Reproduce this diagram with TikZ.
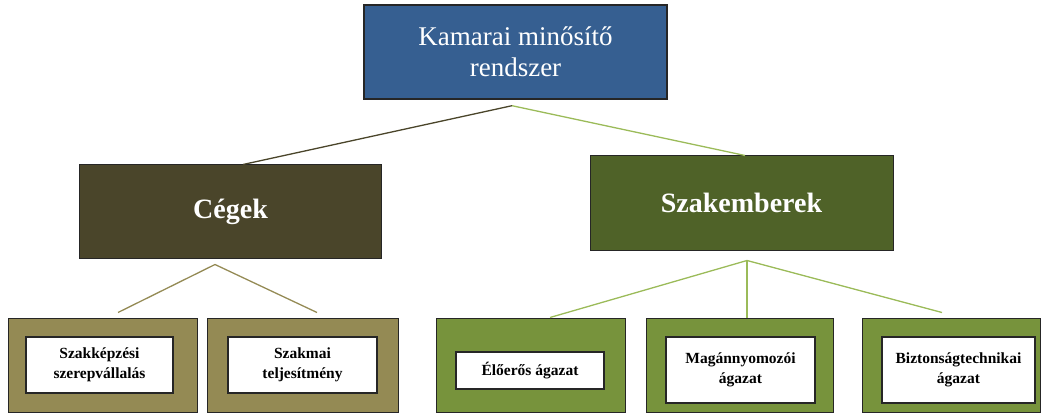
\documentclass[tikz,border=0pt]{standalone}
\usepackage{fontspec}
\setmainfont{Liberation Serif}
\definecolor{topblue}{HTML}{365F91}
\definecolor{cegbrown}{HTML}{4A452A}
\definecolor{szakgreen}{HTML}{4F6228}
\definecolor{olive}{HTML}{948A54}
\definecolor{leaf}{HTML}{77933C}
\definecolor{lightgreen}{HTML}{9BBB59}
\begin{document}
\begin{tikzpicture}[x=1pt,y=-1pt,
  base/.style={draw=black!85, line width=1pt, inner sep=0pt, align=center},
  topbox/.style={base, line width=1.4pt, fill=topblue, text=white, minimum width=303pt, minimum height=94pt, font=\fontsize{27}{31}\selectfont},
  midbox/.style={base, text=white, minimum width=302pt, minimum height=93pt, font=\bfseries\fontsize{28}{30}\selectfont},
  outerbox/.style={base, minimum height=94pt},
  innerbox/.style={base, line width=1.2pt, fill=white, text=black, font=\bfseries\fontsize{15.5}{20}\selectfont},
  link/.style={line width=1.3pt}
]
\useasboundingbox (0,0) rectangle (1041,414);

% top
\node[topbox] (top) at (515.5,52) {Kamarai minősítő\\rendszer};

% middle
\node[midbox, fill=cegbrown] (cegek) at (230.5,211.5) {Cégek};
\node[midbox, fill=szakgreen, minimum width=303pt, minimum height=94pt] (szak) at (741.5,203) {Szakemberek};

% bottom outer
\node[outerbox, fill=olive, minimum width=189pt] (b1) at (102.5,365) {};
\node[outerbox, fill=olive, minimum width=191pt] (b2) at (302.5,365) {};
\node[outerbox, fill=leaf, minimum width=189pt] (b3) at (530.5,365) {};
\node[outerbox, fill=leaf, minimum width=187pt] (b4) at (740,365) {};
\node[outerbox, fill=leaf, minimum width=178pt] (b5) at (951,365) {};

% bottom inner
\node[innerbox, minimum width=147pt, minimum height=56pt] (i1) at (99.5,365) {Szakképzési\\szerepvállalás};
\node[innerbox, minimum width=149pt, minimum height=56pt] (i2) at (302.5,365) {Szakmai\\teljesítmény};
\node[innerbox, minimum width=148pt, minimum height=37pt] (i3) at (530,370.5) {Élőerős ágazat};
\node[innerbox, minimum width=149pt, minimum height=66pt] (i4) at (740.5,370) {Magánnyomozói\\ágazat};
\node[innerbox, minimum width=153pt, minimum height=66pt] (i5) at (958.5,370) {Biztonságtechnikai\\ágazat};

% connectors
\draw[link, color=cegbrown] ([xshift=-3.5pt,yshift=-6pt]top.south) -- ([xshift=12.5pt]cegek.north);
\draw[link, color=lightgreen] ([xshift=-3.5pt,yshift=-6pt]top.south) -- ([xshift=3.5pt]szak.north);

\draw[link, color=olive] ([xshift=-15.5pt,yshift=-6pt]cegek.south) -- ([xshift=15.5pt,yshift=5pt]b1.north);
\draw[link, color=olive] ([xshift=-15.5pt,yshift=-6pt]cegek.south) -- ([xshift=14.5pt,yshift=5pt]b2.north);

\draw[link, color=lightgreen] ([xshift=5.5pt,yshift=-10pt]szak.south) -- ([xshift=19.5pt]b3.north);
\draw[link, color=lightgreen] ([xshift=5.5pt,yshift=-10pt]szak.south) -- ([xshift=7pt]b4.north);
\draw[link, color=lightgreen] ([xshift=5.5pt,yshift=-10pt]szak.south) -- ([xshift=-9pt,yshift=5pt]b5.north);
\end{tikzpicture}
\end{document}
